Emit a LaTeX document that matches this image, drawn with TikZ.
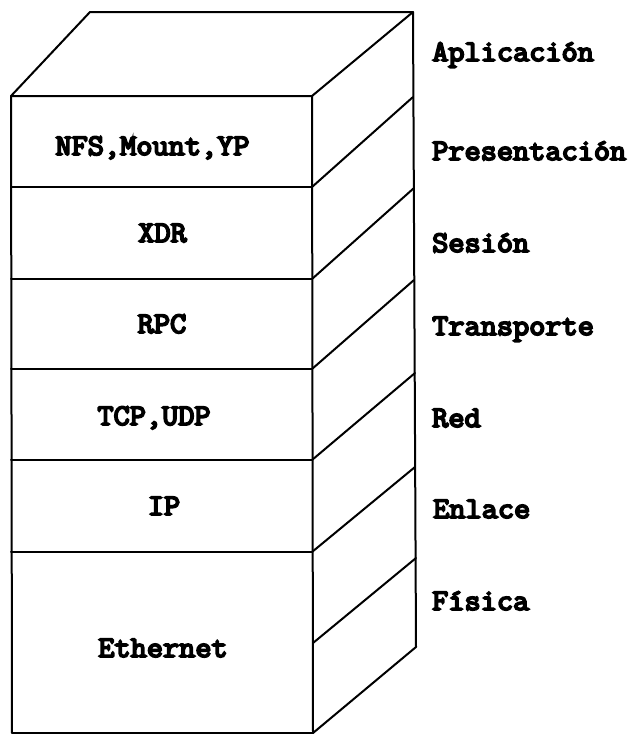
\documentclass[tikz,border=0pt]{standalone}
\usepackage{fontspec}
\newfontfamily\typefont{Latin Modern Mono}[FakeBold=6]
\newcommand\talltext[1]{\scalebox{1}[0.95]{#1}}
\tikzset{
  edge/.style={line width=2pt, line join=round, line cap=round},
  lbl/.style={font=\typefont\fontsize{31.4}{34}\selectfont, inner sep=0pt, anchor=base},
  side/.style={lbl, anchor=base west}
}
\begin{document}
\begin{tikzpicture}[x=1pt,y=-1pt]
\useasboundingbox (0,0) rectangle (636,734);
% front corners and layer lines
\coordinate (fl0) at (11,96);   \coordinate (fr0) at (312,96);
\coordinate (fl1) at (11,187);  \coordinate (fr1) at (312,187);
\coordinate (fl2) at (11,279);  \coordinate (fr2) at (312,279);
\coordinate (fl3) at (11,369);  \coordinate (fr3) at (312,369);
\coordinate (fl4) at (11,460);  \coordinate (fr4) at (312,460);
\coordinate (fl5) at (11,552);  \coordinate (fr5) at (312,552);
\coordinate (fr6) at (313,643);
\coordinate (fl7) at (12,733);  \coordinate (fr7) at (313,733);
% back edge points
\coordinate (tl) at (90,12);
\coordinate (b0) at (413,12);
\coordinate (b1) at (413,97);
\coordinate (b2) at (414,188);
\coordinate (b3) at (414,280);
\coordinate (b4) at (415,373);
\coordinate (b5) at (415,467);
\coordinate (b6) at (416,558);
\coordinate (b7) at (416,647);
% box outline
\draw[edge] (fl7) -- (fl0) -- (tl) -- (b0) -- (b7) -- (fr7) -- cycle;
\draw[edge] (fl0) -- (fr0) -- (fr7);
\draw[edge] (fr0) -- (b0);
\foreach \i in {1,...,5} {\draw[edge] (fl\i) -- (fr\i);}
\foreach \i in {1,...,6} {\draw[edge] (fr\i) -- (b\i);}
% layer labels
\node[lbl] (nfs) at (152.5,155) {\talltext{NFS,Mount,YP}};
\node[lbl] (xdr) at (162.5,242) {\talltext{XDR}};
\node[lbl] (rpc) at (162,333) {\talltext{RPC}};
\node[lbl] (tcp) at (154,425) {\talltext{TCP,UDP}};
\node[lbl] (ip) at (164,515) {\talltext{IP}};
\node[lbl] (eth) at (163,657) {\talltext{Ethernet}};
% OSI labels
\node[side] (apl) at (432,61) {\talltext{Aplicación}};
\node[side] (pre) at (432,160) {\talltext{Presentación}};
\node[side] (ses) at (432,252) {\talltext{Sesión}};
\node[side] (tra) at (432,335) {\talltext{Transporte}};
\node[side] (red) at (432,427) {\talltext{Red}};
\node[side] (enl) at (433,518) {\talltext{Enlace}};
\node[side] (fis) at (432,610) {\talltext{Física}};
\end{tikzpicture}
\end{document}
